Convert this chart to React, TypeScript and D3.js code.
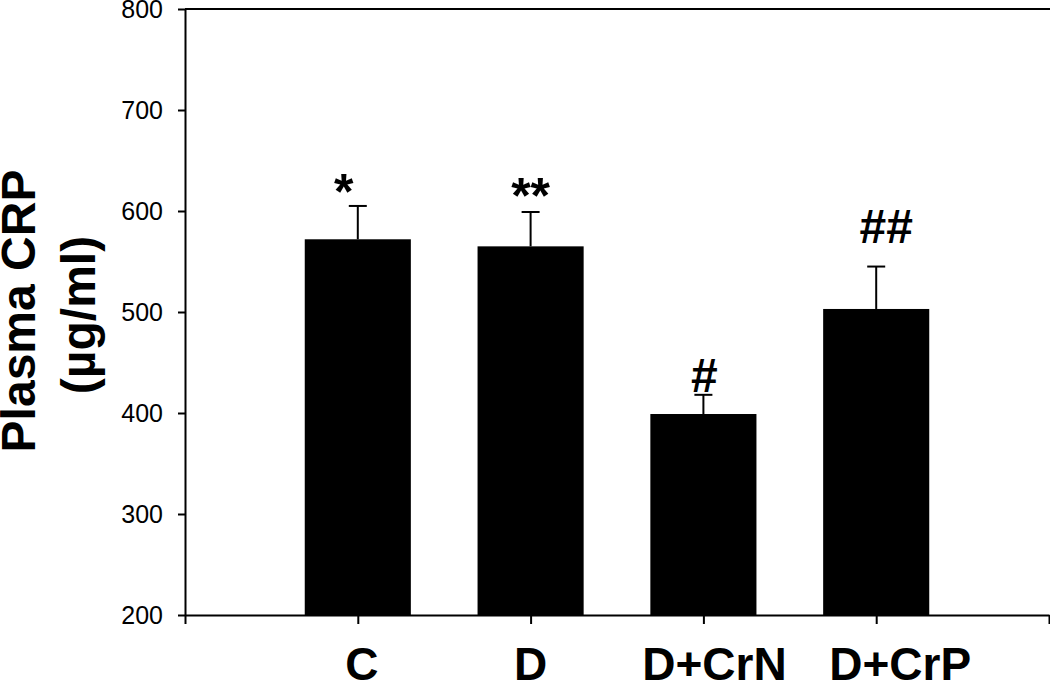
import React, { useEffect, useRef } from 'react'
import { select, scaleLinear, axisLeft, axisBottom } from 'd3'

const groups = ['C', 'D', 'D+CrN', 'D+CrP']
const means = [572, 565, 399, 503]
const sems = [33, 34, 19, 42]
const marks = ['*', '**', '#', '##']
const yTicks = [200, 300, 400, 500, 600, 700, 800]

const width = 1050
const height = 684
const left = 185
const right = 1049
const top = 9
const bottom = 615
const font = '"Liberation Sans", Arial, Helvetica, sans-serif'

// small nudges so the labels sit where the original put them
const labelShift = [4, 0, 11, 24]
const markShift = [-14, 0, 1, 10]
const markGap = [-3, -1, 3, 24]

function App() {
  const svgRef = useRef<SVGSVGElement>(null)

  useEffect(() => {
    const svg = select(svgRef.current)
    svg.selectAll('*').remove()

    const x = scaleLinear().domain([0, groups.length + 1]).range([left, right])
    const y = scaleLinear().domain([200, 800]).range([bottom, top])
    const step = x(1) - x(0)
    const barW = step * 0.614

    // frame top line
    svg.append('line')
      .attr('x1', left).attr('x2', width)
      .attr('y1', y(800)).attr('y2', y(800))
      .attr('stroke', '#000').attr('stroke-width', 2)

    // bars
    svg.selectAll('rect.bar')
      .data(means)
      .join('rect')
      .attr('class', 'bar')
      .attr('x', (d, i) => x(i + 1) - barW / 2)
      .attr('y', d => y(d))
      .attr('width', barW)
      .attr('height', d => bottom - y(d))
      .attr('fill', '#000')

    // error bars
    const err = svg.append('g').attr('stroke', '#000').attr('stroke-width', 2)
    means.forEach((m, i) => {
      const cx = x(i + 1)
      err.append('line')
        .attr('x1', cx).attr('x2', cx)
        .attr('y1', y(m)).attr('y2', y(m + sems[i]))
      err.append('line')
        .attr('x1', cx - 9).attr('x2', cx + 9)
        .attr('y1', y(m + sems[i])).attr('y2', y(m + sems[i]))
    })

    // significance marks
    svg.selectAll('text.mark')
      .data(marks)
      .join('text')
      .attr('class', 'mark')
      .attr('x', (d, i) => x(i + 1) + markShift[i])
      .attr('y', (d, i) => y(means[i] + sems[i]) - markGap[i])
      .attr('text-anchor', 'middle')
      .attr('font-family', font)
      .attr('font-weight', 'bold')
      .attr('font-size', (d) => (d.startsWith('*') ? 50 : 48))
      .text(d => d)

    // y axis
    const yAxis = svg.append('g')
      .attr('transform', `translate(${left},0)`)
      .call(axisLeft(y).tickValues(yTicks).tickSize(7).tickPadding(15).tickSizeOuter(0))
    yAxis.select('.domain').attr('stroke-width', 2)
    yAxis.selectAll('.tick line').attr('stroke-width', 2)
    yAxis.selectAll('.tick text')
      .attr('font-family', font)
      .attr('font-size', 25)
      .attr('fill', '#000')

    // x axis
    const xAxis = svg.append('g')
      .attr('transform', `translate(0,${bottom})`)
      .call(axisBottom(x).ticks(groups.length + 1).tickSize(9).tickSizeOuter(0).tickFormat(() => ''))
    xAxis.select('.domain').attr('stroke-width', 2)
    xAxis.selectAll('.tick line').attr('stroke-width', 2)

    svg.selectAll('text.cat')
      .data(groups)
      .join('text')
      .attr('class', 'cat')
      .attr('x', (d, i) => x(i + 1) + labelShift[i])
      .attr('y', 680)
      .attr('text-anchor', 'middle')
      .attr('font-family', font)
      .attr('font-weight', 'bold')
      .attr('font-size', 46)
      .text(d => d)

    // y title
    const title = svg.append('text')
      .attr('transform', 'translate(0,311) rotate(-90)')
      .attr('text-anchor', 'middle')
      .attr('font-family', font)
      .attr('font-weight', 'bold')
      .attr('font-size', 48)
    title.append('tspan').attr('x', 0).attr('y', 35).text('Plasma CRP')
    title.append('tspan').attr('x', -4).attr('y', 95).text('(µg/ml)')
  }, [])

  return (
    <svg
      ref={svgRef}
      width={width}
      height={height}
      style={{ position: 'absolute', left: 0, top: 0, background: '#fff' }}
    />
  )
}

export default App
